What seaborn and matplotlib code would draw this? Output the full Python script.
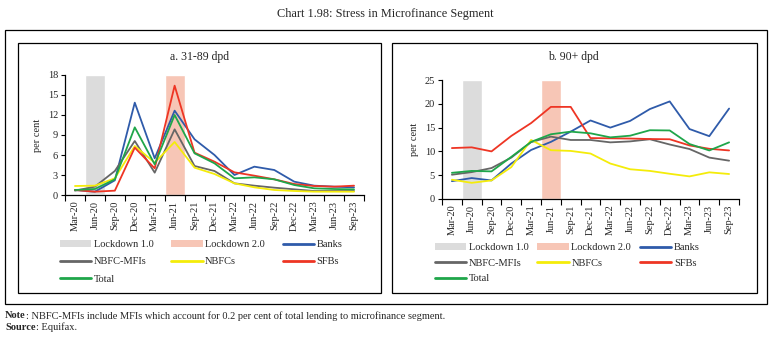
import numpy as np
import pandas as pd
import matplotlib
matplotlib.use("Agg")
import matplotlib.pyplot as plt
import seaborn as sns
from matplotlib.patches import Rectangle, Patch
from matplotlib.lines import Line2D

quarters = ["Mar-20", "Jun-20", "Sep-20", "Dec-20", "Mar-21", "Jun-21", "Sep-21", "Dec-21",
            "Mar-22", "Jun-22", "Sep-22", "Dec-22", "Mar-23", "Jun-23", "Sep-23"]

# Panel a: 31-89 dpd
a_banks = [0.75, 0.5, 2.2, 13.85, 5.5, 12.65, 8.35, 6.0, 3.0, 4.25, 3.75, 2.0, 1.4, 1.25, 1.15]
a_mfis = [0.65, 1.25, 3.6, 8.1, 3.35, 9.85, 4.35, 3.6, 1.75, 1.4, 1.1, 0.85, 0.6, 0.6, 0.6]
a_nbfcs = [1.35, 1.4, 2.5, 7.35, 4.85, 7.95, 4.1, 3.15, 1.75, 1.15, 0.75, 0.6, 0.5, 0.5, 0.5]
a_sfbs = [0.75, 0.5, 0.65, 7.1, 4.0, 16.4, 6.35, 5.0, 3.4, 2.9, 2.35, 1.65, 1.35, 1.25, 1.4]
a_total = [0.75, 0.9, 2.35, 10.15, 4.6, 12.0, 6.25, 4.75, 2.5, 2.65, 2.35, 1.5, 1.0, 0.9, 0.85]

# Panel b: 90+ dpd
b_banks = [3.75, 4.4, 3.9, 7.45, 10.3, 12.0, 14.15, 16.5, 15.0, 16.4, 18.9, 20.5, 14.7, 13.2, 19.0]
b_mfis = [5.1, 5.65, 6.5, 8.7, 11.95, 13.1, 12.4, 12.4, 11.9, 12.1, 12.55, 11.45, 10.5, 8.7, 8.05]
b_nbfcs = [4.05, 3.4, 3.9, 6.7, 12.4, 10.25, 10.1, 9.55, 7.45, 6.25, 5.9, 5.3, 4.75, 5.6, 5.25]
b_sfbs = [10.7, 10.85, 10.0, 13.25, 15.95, 19.35, 19.35, 12.8, 12.75, 12.7, 12.6, 12.55, 11.25, 10.55, 10.2]
b_total = [5.5, 5.9, 5.8, 8.85, 12.0, 13.6, 14.15, 13.8, 12.95, 13.3, 14.45, 14.4, 11.55, 10.2, 11.9]

# Lockdown shading (full-height bars)
lock1_a = [0, 18, 0, 0, 0, 0, 0, 0, 0, 0, 0, 0, 0, 0, 0]
lock2_a = [0, 0, 0, 0, 0, 18, 0, 0, 0, 0, 0, 0, 0, 0, 0]
lock1_b = [0, 25, 0, 0, 0, 0, 0, 0, 0, 0, 0, 0, 0, 0, 0]
lock2_b = [0, 0, 0, 0, 0, 25, 0, 0, 0, 0, 0, 0, 0, 0, 0]

series_names = ["Banks", "NBFC-MFIs", "NBFCs", "SFBs", "Total"]
palette = {"Banks": "#2F5BAA", "NBFC-MFIs": "#666666", "NBFCs": "#F4EC0A",
           "SFBs": "#EE3524", "Total": "#1FA64A"}
lock1_color = "#DCDCDC"
lock2_color = "#F7C6B6"

sns.set_theme(style="white")
plt.rcParams['font.family'] = ['Liberation Serif', 'DejaVu Serif']

fig = plt.figure(figsize=(7.7, 3.41), dpi=100)
W, H = 770, 341

def fx(px):
    return px / W

def fy(py):
    return 1 - py / H

def build_long(vals):
    rows = []
    for name, v in zip(series_names, vals):
        for i, q in enumerate(quarters):
            rows.append({"pos": i, "series": name, "value": v[i]})
    return pd.DataFrame(rows)

def draw_panel(ax, vals, l1, l2, ymax, ystep):
    pos = np.arange(len(quarters))
    sns.barplot(x=pos, y=l1, native_scale=True, width=1.0, color=lock1_color,
                saturation=1, ax=ax, zorder=1)
    sns.barplot(x=pos, y=l2, native_scale=True, width=1.0, color=lock2_color,
                saturation=1, ax=ax, zorder=1)
    df = build_long(vals)
    sns.lineplot(data=df, x="pos", y="value", hue="series", palette=palette,
                 hue_order=series_names, linewidth=1.3, ax=ax, legend=False, zorder=3)
    ax.set_xlim(-0.5, len(quarters) - 0.5)
    ax.set_ylim(0, ymax)
    ax.set_yticks(np.arange(0, ymax + 0.1, ystep))
    ax.set_xticks(pos)
    ax.set_xticklabels(quarters, rotation=90, fontsize=7.5)
    ax.set_xticks(np.arange(-0.5, len(quarters), 1.0), minor=True)
    ax.tick_params(axis="x", which="major", length=0, pad=4)
    ax.tick_params(axis="x", which="minor", length=4, width=0.8, color="black", direction="out", bottom=True)
    ax.tick_params(axis="y", length=3, width=0.8, color="black", direction="out", left=True, labelsize=7.5, pad=2)
    for s in ["top", "right"]:
        ax.spines[s].set_visible(False)
    for s in ["left", "bottom"]:
        ax.spines[s].set_color("black")
        ax.spines[s].set_linewidth(0.9)
    ax.set_xlabel("")
    ax.set_ylabel("per cent", fontsize=7.5, labelpad=4)
    ax.grid(False)
    ax.set_facecolor("white")

ax1 = fig.add_axes([fx(65), fy(195), fx(364 - 65), (195 - 75) / H])
ax2 = fig.add_axes([fx(442), fy(199), fx(739 - 442), (199 - 80) / H])

draw_panel(ax1, [a_banks, a_mfis, a_nbfcs, a_sfbs, a_total], lock1_a, lock2_a, 18, 3)
draw_panel(ax2, [b_banks, b_mfis, b_nbfcs, b_sfbs, b_total], lock1_b, lock2_b, 25, 5)

# Titles
fig.text(0.5, fy(14), "Chart 1.98: Stress in Microfinance Segment", ha="center", va="center", fontsize=8.8)
fig.text(fx(200), fy(57), "a. 31-89 dpd", ha="center", va="center", fontsize=8.5)
fig.text(fx(573), fy(57), "b. 90+ dpd", ha="center", va="center", fontsize=8.5)

# Boxes
fig.add_artist(Rectangle((fx(5), fy(304)), fx(762), (304 - 30) / H, transform=fig.transFigure,
                         fill=False, edgecolor="black", linewidth=0.9))
fig.add_artist(Rectangle((fx(18), fy(293)), fx(363), (293 - 43) / H, transform=fig.transFigure,
                         fill=False, edgecolor="black", linewidth=0.9))
fig.add_artist(Rectangle((fx(392), fy(293)), fx(365), (293 - 43) / H, transform=fig.transFigure,
                         fill=False, edgecolor="black", linewidth=0.9))

# Legends (row-major order via column-major fill)
def lh(name):
    return Line2D([0], [0], color=palette[name], linewidth=2)

handles = [Patch(facecolor=lock1_color, edgecolor="none"), lh("NBFC-MFIs"), lh("Total"),
           Patch(facecolor=lock2_color, edgecolor="none"), lh("NBFCs"),
           lh("Banks"), lh("SFBs")]
labels = ["Lockdown 1.0", "NBFC-MFIs", "Total", "Lockdown 2.0", "NBFCs", "Banks", "SFBs"]

fig.legend(handles, labels, loc="upper left", bbox_to_anchor=(fx(60), fy(240)), ncol=3,
           frameon=False, fontsize=7.5, handlelength=3.0, handletextpad=0.25,
           columnspacing=1.7, labelspacing=0.75, borderaxespad=0, borderpad=0)
fig.legend(handles, labels, loc="upper left", bbox_to_anchor=(fx(435), fy(243)), ncol=3,
           frameon=False, fontsize=7.5, handlelength=3.0, handletextpad=0.25,
           columnspacing=0.85, labelspacing=0.6, borderaxespad=0, borderpad=0)

# Notes
renderer = fig.canvas.get_renderer()
def bold_lead(y, lead, rest, fs=7.5):
    t = fig.text(fx(5), fy(y), lead, ha="left", va="center", fontsize=fs, fontweight="bold")
    bb = t.get_window_extent(renderer=renderer)
    fig.text(bb.x1 / W, fy(y), rest, ha="left", va="center", fontsize=fs)

bold_lead(316, "Note", ": NBFC-MFIs include MFIs which account for 0.2 per cent of total lending to microfinance segment.")
bold_lead(327, "Source", ": Equifax.")

fig.savefig("out.png", dpi=100, facecolor="white")
